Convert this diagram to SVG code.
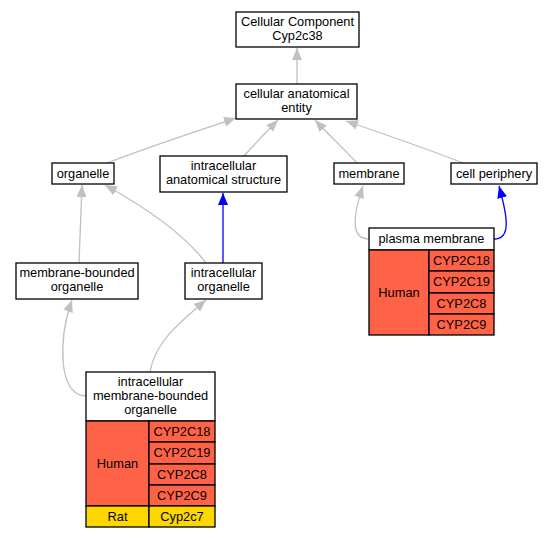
<svg xmlns="http://www.w3.org/2000/svg" width="552" height="539" viewBox="0 0 552 539">
<style>
text{font-family:"Liberation Sans",Arial,sans-serif;font-size:12.8px;text-anchor:middle;fill:#000}
.n{fill:#fff;stroke:#000;stroke-width:1.3}
.h{fill:#ff6347;stroke:#000;stroke-width:1.3}
.r{fill:#ffd700;stroke:#000;stroke-width:1.3}
.e{fill:none;stroke:#c0c0c0;stroke-width:1.3}
.b{fill:none;stroke:#0000ff;stroke-width:1.3}
</style>
<defs>
<marker id="ag" markerUnits="userSpaceOnUse" markerWidth="13" markerHeight="11" refX="12" refY="5" orient="auto"><path d="M0,0L12,5L0,10z" fill="#c0c0c0"/></marker>
<marker id="ab" markerUnits="userSpaceOnUse" markerWidth="13" markerHeight="11" refX="12" refY="5" orient="auto"><path d="M0,0L12,5L0,10z" fill="#0000ff"/></marker>
</defs>
<g id="edges">
<path class="e" d="M297,84L297,48" marker-end="url(#ag)"/>
<path class="e" d="M107,163C145,148 200,130 236,118" marker-end="url(#ag)"/>
<path class="e" d="M244,156C254,145 266,132 278,120" marker-end="url(#ag)"/>
<path class="e" d="M357,163C347,152 328,134 315,120" marker-end="url(#ag)"/>
<path class="e" d="M463,163C430,150 384,134 346,121" marker-end="url(#ag)"/>
<path class="e" d="M79,263C80,240 81,210 82,185" marker-end="url(#ag)"/>
<path class="e" d="M206,263C185,235 150,210 105,185" marker-end="url(#ag)"/>
<path class="b" d="M223,263L223,193" marker-end="url(#ab)"/>
<path class="e" d="M369,239C350,239 353,215 363,186" marker-end="url(#ag)"/>
<path class="b" d="M494,239C512,239 507,215 499,186" marker-end="url(#ab)"/>
<path class="e" d="M86,396C58,396 58,340 72,300" marker-end="url(#ag)"/>
<path class="e" d="M150,372C155,342 180,322 206,300" marker-end="url(#ag)"/>
</g>
<g id="n_cc"><rect class="n" x="236" y="12" width="123" height="35"/><text x="297.5" y="26">Cellular Component</text><text x="297.5" y="40">Cyp2c38</text></g>
<g id="n_cae"><rect class="n" x="236" y="84" width="121" height="35"/><text x="296.5" y="98">cellular anatomical</text><text x="296.5" y="112">entity</text></g>
<g id="n_org"><rect class="n" x="52" y="163" width="62" height="21"/><text x="83" y="178">organelle</text></g>
<g id="n_ias"><rect class="n" x="160" y="156" width="127" height="36"/><text x="223.5" y="170">intracellular</text><text x="223.5" y="184">anatomical structure</text></g>
<g id="n_mem"><rect class="n" x="334" y="163" width="70" height="21"/><text x="369" y="178">membrane</text></g>
<g id="n_cp"><rect class="n" x="451" y="163" width="86" height="21"/><text x="494" y="178">cell periphery</text></g>
<g id="n_mbo"><rect class="n" x="16" y="263" width="122" height="36"/><text x="77" y="277">membrane-bounded</text><text x="77" y="291">organelle</text></g>
<g id="n_io"><rect class="n" x="185" y="263" width="77" height="36"/><text x="223.5" y="277">intracellular</text><text x="223.5" y="291">organelle</text></g>
<g id="n_pm">
<rect class="n" x="369" y="228" width="125" height="22"/><text x="431.5" y="243">plasma membrane</text>
<rect class="h" x="369" y="250" width="60" height="85"/><text x="399" y="297">Human</text>
<rect class="h" x="429" y="250" width="65" height="21"/><text x="461.5" y="265">CYP2C18</text>
<rect class="h" x="429" y="271" width="65" height="22"/><text x="461.5" y="286">CYP2C19</text>
<rect class="h" x="429" y="293" width="65" height="21"/><text x="461.5" y="308">CYP2C8</text>
<rect class="h" x="429" y="314" width="65" height="21"/><text x="461.5" y="329">CYP2C9</text>
</g>
<g id="n_imbo">
<rect class="n" x="86" y="372" width="129" height="49"/><text x="150.5" y="386">intracellular</text><text x="150.5" y="400">membrane-bounded</text><text x="150.5" y="414">organelle</text>
<rect class="h" x="86" y="421" width="63" height="85"/><text x="117.5" y="468">Human</text>
<rect class="h" x="149" y="421" width="66" height="21"/><text x="182" y="436">CYP2C18</text>
<rect class="h" x="149" y="442" width="66" height="22"/><text x="182" y="457">CYP2C19</text>
<rect class="h" x="149" y="464" width="66" height="21"/><text x="182" y="479">CYP2C8</text>
<rect class="h" x="149" y="485" width="66" height="21"/><text x="182" y="500">CYP2C9</text>
<rect class="r" x="86" y="506" width="63" height="21"/><text x="117.5" y="521">Rat</text>
<rect class="r" x="149" y="506" width="66" height="21"/><text x="182" y="521">Cyp2c7</text>
</g>
</svg>
